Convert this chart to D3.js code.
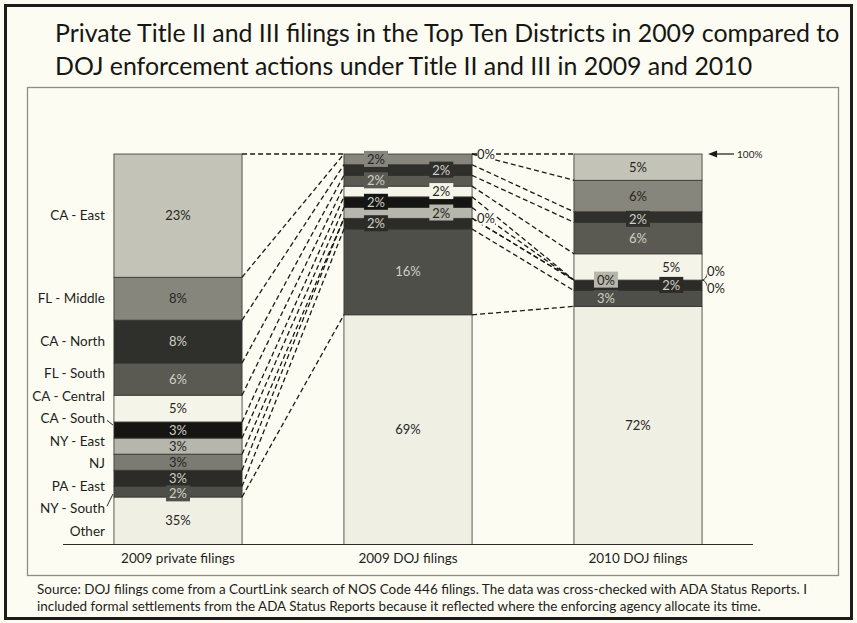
<!DOCTYPE html>
<html>
<head>
<meta charset="utf-8">
<script src="https://cdn.jsdelivr.net/npm/d3@7"></script>
<style>
  html, body { margin: 0; padding: 0; background: #fcfcf2; }
  svg { display: block; font-family: Lato, "Open Sans", sans-serif; }
</style>
</head>
<body>
<svg id="chart" width="857" height="623"></svg>
<script>
// ---- data -------------------------------------------------------------
const titleLines = [
  "Private Title II and III filings in the Top Ten Districts in 2009 compared to",
  "DOJ enforcement actions under Title II and III in 2009 and 2010"
];
const sourceLines = [
  "Source:  DOJ filings come from a CourtLink search of NOS Code 446 filings. The data was cross-checked with ADA Status Reports.  I",
  "included formal settlements from the ADA Status Reports because it reflected where the enforcing agency allocate its time."
];
const categories = ["2009 private filings", "2009 DOJ filings", "2010 DOJ filings"];
const districts = ["CA - East", "FL - Middle", "CA - North", "FL - South", "CA - Central",
                   "CA - South", "NY - East", "NJ", "PA - East", "NY - South", "Other"];
// share of filings (%) per district, same order as districts
const private2009 = [23, 8, 8, 6, 5, 3, 3, 3, 3, 2, 35];
const doj2009     = [0, 2, 2, 2, 2, 2, 2, 0, 2, 16, 69];
const doj2010     = [5, 6, 2, 6, 5, 0, 0, 0, 2, 3, 72];
const seriesByCategory = [private2009, doj2009, doj2010];
// the 100% value axis is cut off above zero
const axisMin = 0.265;
const axisMax = 1;
const topNote = "100%";

// ---- styling ----------------------------------------------------------
const fills = {
  "CA - East": "#c3c3b8", "FL - Middle": "#86867d", "CA - North": "#2f2f2b",
  "FL - South": "#5a5a53", "CA - Central": "#f4f4e9", "CA - South": "#151513",
  "NY - East": "#b6b6ac", "NJ": "#7b7b73", "PA - East": "#2b2b27",
  "NY - South": "#4f4f49", "Other": "#efefe3"
};
// where each value label sits: c = centred, l/r = left/right inside, o = outside right
const labelPlacement = [
  ["c", "c", "c", "c", "c", "c", "c", "c", "c", "c", "c"],
  ["o", "l", "r", "l", "r", "l", "r", "o", "l", "c", "c"],
  ["c", "c", "c", "c", "r", "o", "l", "o", "r", "l", "c"]
];

const W = 857, H = 623;
const plot = { left: 63, right: 753, top: 154, bottom: 544 };
const svg = d3.select("#chart");

// frame
svg.append("rect").attr("x", 0).attr("y", 0).attr("width", W).attr("height", H).attr("fill", "#fcfcf2");
svg.append("rect").attr("x", 5.5).attr("y", 5.5).attr("width", 846).attr("height", 613)
  .attr("fill", "none").attr("stroke", "#1c1c1a").attr("stroke-width", 3);
svg.append("rect").attr("x", 27.5).attr("y", 87.5).attr("width", 811).attr("height", 488)
  .attr("fill", "#fcfcf3").attr("stroke", "#8e8e86").attr("stroke-width", 1.3);

// fit a text element to a target width
function fitText(sel, width) {
  const n = sel.node();
  const len = n.getComputedTextLength();
  const fs = parseFloat(sel.attr("font-size"));
  sel.attr("font-size", fs * width / len);
  return fs * width / len;
}

// title
const t1 = svg.append("text").attr("x", 55).attr("y", 42).attr("font-size", 24)
  .attr("fill", "#161614").text(titleLines[0]);
const titleSize = fitText(t1, 785);
svg.append("text").attr("x", 55).attr("y", 75).attr("font-size", titleSize)
  .attr("fill", "#161614").text(titleLines[1]);

// source note
const s1 = svg.append("text").attr("x", 37).attr("y", 594).attr("font-size", 12)
  .attr("fill", "#1e1e1c").text(sourceLines[0]);
const srcSize = fitText(s1, 771);
svg.append("text").attr("x", 37).attr("y", 611).attr("font-size", srcSize)
  .attr("fill", "#1e1e1c").text(sourceLines[1]);

// ---- scales & stack ---------------------------------------------------
const x = d3.scaleBand().domain(categories).range([plot.left, plot.right])
  .paddingInner(0.443).paddingOuter(0.2215);
const bw = x.bandwidth();
const y = d3.scaleLinear().domain([axisMin, axisMax]).range([plot.bottom, plot.top]);

const rows = categories.map((c, i) => {
  const r = { category: c };
  districts.forEach((d, j) => r[d] = seriesByCategory[i][j]);
  return r;
});
const stackKeys = districts.slice().reverse(); // "Other" at the bottom
const stacked = d3.stack().keys(stackKeys).offset(d3.stackOffsetExpand)(rows);
const byKey = {};
stacked.forEach(s => byKey[s.key] = s);

svg.append("clipPath").attr("id", "plotClip").append("rect")
  .attr("x", plot.left).attr("y", plot.top - 1)
  .attr("width", plot.right - plot.left).attr("height", plot.bottom - plot.top + 1);

// bars
const barG = svg.append("g").attr("clip-path", "url(#plotClip)");
stacked.forEach(s => {
  barG.selectAll(null).data(s.filter(d => d[1] - d[0] > 0)).enter().append("rect")
    .attr("x", d => x(d.data.category))
    .attr("y", d => y(d[1]))
    .attr("width", bw)
    .attr("height", d => y(Math.max(d[0], axisMin - 0.02)) - y(d[1]))
    .attr("fill", fills[s.key])
    .attr("stroke", "#34342f").attr("stroke-width", 0.8);
});

// series lines joining the top of each district between neighbouring bars
const lineG = svg.append("g");
stacked.forEach(s => {
  for (let i = 0; i < categories.length - 1; i++) {
    const a = s[i], b = s[i + 1];
    lineG.append("line")
      .attr("x1", x(categories[i]) + bw).attr("y1", y(a[1]))
      .attr("x2", x(categories[i + 1])).attr("y2", y(b[1]))
      .attr("stroke", "#1a1a18").attr("stroke-width", 1.3)
      .attr("stroke-dasharray", "5,3");
  }
});

// category axis
svg.append("line").attr("x1", plot.left).attr("x2", plot.right)
  .attr("y1", plot.bottom + 0.5).attr("y2", plot.bottom + 0.5)
  .attr("stroke", "#2a2a27").attr("stroke-width", 1.2);
svg.append("g").selectAll("text").data(categories).enter().append("text")
  .attr("x", d => x(d) + bw / 2).attr("y", 558).attr("dy", "0.35em")
  .attr("text-anchor", "middle").attr("font-size", 13.5).attr("fill", "#1e1e1c")
  .text(d => d);

// relax a set of labels vertically so they keep a minimum gap
function relax(items, gap) {
  items.sort((a, b) => a.y - b.y);
  for (let k = 0; k < 400; k++) {
    let moved = false;
    for (let i = 0; i < items.length - 1; i++) {
      const d = items[i + 1].y - items[i].y;
      if (d < gap - 0.01) {
        const sft = (gap - d) / 2;
        items[i].y -= sft; items[i + 1].y += sft; moved = true;
      }
    }
    if (!moved) break;
  }
}

// district names beside the first bar
const firstCat = categories[0];
const nameItems = districts.map(d => {
  const seg = byKey[d][0];
  const top = y(seg[1]), bot = y(Math.max(seg[0], axisMin));
  return { name: d, top, bot, anchor: (top + bot) / 2, y: (top + bot) / 2 };
});
relax(nameItems, 22.5);
const nameG = svg.append("g");
const nameRight = x(firstCat) - 9;
nameItems.forEach(it => {
  nameG.append("text").attr("x", nameRight).attr("y", it.y).attr("dy", "0.35em")
    .attr("text-anchor", "end").attr("font-size", 13.5).attr("fill", "#1e1e1c").text(it.name);
  if (it.y < it.top - 1 || it.y > it.bot + 1) {
    nameG.append("line")
      .attr("x1", nameRight + 2).attr("y1", it.y + (it.y < it.top ? 2 : -2))
      .attr("x2", x(firstCat) - 1).attr("y2", it.y < it.top ? it.top + 3 : it.bot - 3)
      .attr("stroke", "#2a2a27").attr("stroke-width", 1);
  }
});

// value labels
const valG = svg.append("g");
const valueSize = 13;
const labelH = 14;
function textColour(fill) { return d3.hsl(fill).l < 0.45 ? "#cfcfc5" : "#26261f"; }
categories.forEach((c, ci) => {
  const x0 = x(c);
  const outside = [];
  districts.forEach((d, di) => {
    const seg = byKey[d][ci];
    const v = seriesByCategory[ci][di];
    const top = y(seg[1]), bot = y(Math.max(seg[0], axisMin));
    let mid = (top + bot) / 2;
    const place = labelPlacement[ci][di];
    const label = v + "%";
    if (place === "o") { outside.push({ label, anchor: mid, y: mid }); return; }
    // a centred label taller than its slice hangs from the slice's top edge
    if (place === "c" && bot - top < labelH) mid = top + labelH / 2 + 0.5;
    const lx = place === "l" ? x0 + bw * 0.25 : place === "r" ? x0 + bw * 0.76 : x0 + bw / 2;
    const fill = fills[d];
    const boxed = place !== "c" || (bot - top) < labelH;
    const g = valG.append("g");
    const t = g.append("text").attr("x", lx).attr("y", mid).attr("dy", "0.35em")
      .attr("text-anchor", "middle").attr("font-size", valueSize)
      .attr("fill", textColour(fill)).text(label);
    if (boxed) {
      const bb = t.node().getBBox();
      g.insert("rect", "text").attr("x", bb.x - 3).attr("y", bb.y)
        .attr("width", bb.width + 6).attr("height", bb.height).attr("fill", fill);
    }
  });
  if (outside.length) {
    relax(outside, 17);
    outside.forEach(o => {
      const lx = x0 + bw + 5;
      if (Math.abs(o.y - o.anchor) > 3) {
        valG.append("path")
          .attr("d", `M${x0 + bw},${o.anchor}Q${lx - 1},${o.anchor} ${lx + 1},${o.y}`)
          .attr("fill", "none").attr("stroke", "#2a2a27").attr("stroke-width", 1);
      }
      const g = valG.append("g");
      const t = g.append("text").attr("x", lx).attr("y", o.y).attr("dy", "0.35em")
        .attr("font-size", valueSize).attr("fill", "#26261f").text(o.label);
      const bb = t.node().getBBox();
      g.insert("rect", "text").attr("x", bb.x).attr("y", bb.y + 1)
        .attr("width", bb.width).attr("height", bb.height - 2).attr("fill", "#fcfcf3");
    });
  }
});

// marker for the 100% line
const lastCat = categories[categories.length - 1];
const ax = x(lastCat) + bw + 6, ay = y(axisMax);
svg.append("line").attr("x1", ax + 5).attr("x2", ax + 26).attr("y1", ay).attr("y2", ay)
  .attr("stroke", "#1a1a18").attr("stroke-width", 1.2);
svg.append("path").attr("d", `M${ax},${ay}L${ax + 9},${ay - 3.5}L${ax + 9},${ay + 3.5}Z`).attr("fill", "#1a1a18");
svg.append("text").attr("x", ax + 29).attr("y", ay).attr("dy", "0.35em")
  .attr("font-size", 10).attr("fill", "#26261f").text(topNote);
</script>
</body>
</html>
